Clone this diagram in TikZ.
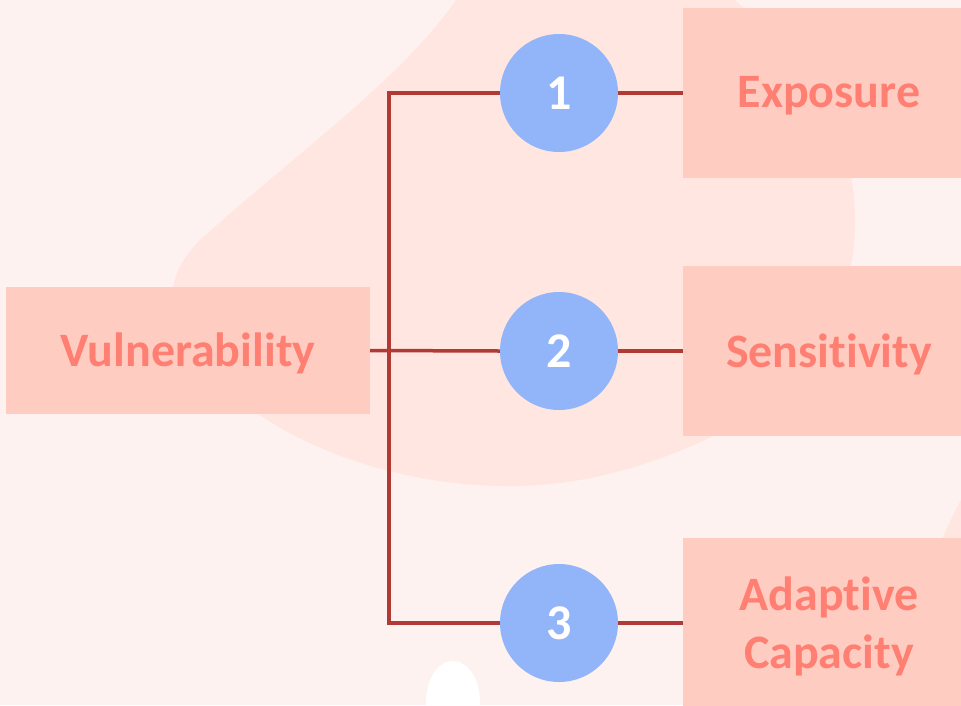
\documentclass[tikz,border=0pt]{standalone}
\usepackage{fontspec}
\setmainfont{Carlito}[Ligatures=NoCommon]
\definecolor{bgc}{HTML}{FEF2F0}
\definecolor{blobc}{HTML}{FFE6E1}
\definecolor{boxc}{HTML}{FFCCC2}
\definecolor{txtc}{HTML}{FF7F73}
\definecolor{circc}{HTML}{92B4F9}
\definecolor{linec}{HTML}{B23A35}
\begin{document}
\begin{tikzpicture}[x=1pt,y=-1pt,
  box/.style={fill=boxc,draw=none,inner sep=0pt,text=txtc,font=\fontsize{48}{58}\selectfont\bfseries,align=center},
  lbl/.style={text=txtc,font=\fontsize{48}{58}\selectfont\bfseries,align=center,inner sep=0pt},
  num/.style={circle,fill=circc,minimum size=118pt,inner sep=0pt,text=white,font=\fontsize{50}{60}\selectfont\bfseries},
  conn/.style={draw=linec,line width=3.5pt}]
\useasboundingbox (0,0) rectangle (961,705);
\begin{scope}
\clip (0,0) rectangle (961,705);
\fill[bgc] (0,0) rectangle (961,705);
% big blob
\fill[blobc] (456,0) -- (735,0)
  .. controls (800,60) and (856,120) .. (855,225)
  .. controls (854,330) and (780,400) .. (705,440)
  .. controls (640,470) and (570,488) .. (499,486)
  .. controls (400,484) and (300,450) .. (240,400)
  .. controls (170,340) and (150,290) .. (200,240)
  .. controls (300,150) and (400,80) .. (456,0) -- cycle;
% corner blob
\fill[blobc] (961,500) .. controls (955,510) and (948,525) .. (940,545) -- (961,545) -- cycle;
% white ellipse
\fill[white] (453,702) ellipse (27 and 41);
% boxes
\node[box,minimum width=364pt,minimum height=127pt] (v) at (188,350.5) {};
\node[lbl] at (188,353) {Vulnerability};
\node[box,minimum width=292pt,minimum height=170pt] (e) at (829,93) {};
\node[lbl] at (829,96) {Exposure};
\node[box,minimum width=292pt,minimum height=170pt] (s) at (829,351) {};
\node[lbl] at (829,354) {Sensitivity};
\node[box,minimum width=292pt,minimum height=180pt] (a) at (829,628) {};
\node[lbl] (at) at (829,626) {Adaptive\\Capacity};
% circles
\node[num] (c1) at (559,93) {1};
\node[num] (c2) at (559,351) {2};
\node[num] (c3) at (559,623) {3};
% connectors
\coordinate (j1) at (389,93);
\coordinate (j3) at (389,623);
\draw[conn] (c1.west) -- (j1) -- (j3) -- (c3.west);
\draw[conn] (v.east) -- (c2.west);
\draw[conn] (c1.east) -- (e.west |- c1.east);
\draw[conn] (c2.east) -- (s.west |- c2.east);
\draw[conn] (c3.east) -- (a.west |- c3.east);
\end{scope}
\end{tikzpicture}
\end{document}
